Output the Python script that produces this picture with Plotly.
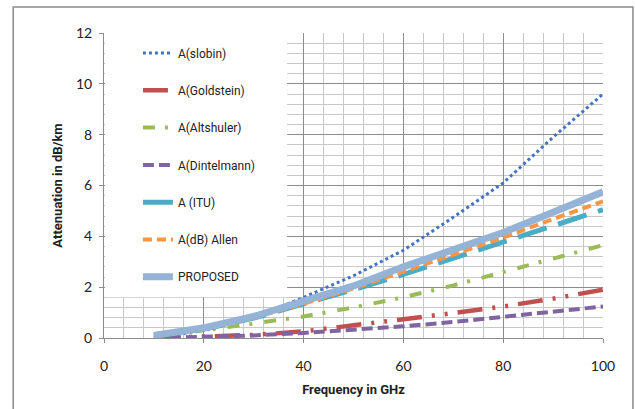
import plotly.graph_objects as go

freq = [10, 20, 30, 40, 50, 60, 70, 80, 90, 100]
slobin = [0.0, 0.3, 0.8, 1.6, 2.45, 3.45, 4.75, 6.1, 7.9, 9.6]
goldstein = [0.0, 0.05, 0.12, 0.26, 0.48, 0.74, 0.98, 1.24, 1.55, 1.9]
altshuler = [0.15, 0.3, 0.57, 0.85, 1.2, 1.6, 2.07, 2.6, 3.1, 3.65]
dintelmann = [0.0, 0.05, 0.1, 0.2, 0.32, 0.46, 0.63, 0.84, 1.03, 1.24]
itu = [0.08, 0.35, 0.78, 1.32, 1.9, 2.5, 3.15, 3.8, 4.45, 5.05]
allen = [0.08, 0.35, 0.8, 1.35, 1.95, 2.62, 3.3, 3.95, 4.68, 5.38]
proposed = [0.1, 0.4, 0.85, 1.42, 2.05, 2.8, 3.45, 4.15, 4.95, 5.75]

names = ["A(slobin)", "A(Goldstein)", "A(Altshuler)", "A(Dintelmann)",
         "A (ITU)", "A(dB) Allen", "PROPOSED"]
values = [slobin, goldstein, altshuler, dintelmann, itu, allen, proposed]
colors = ["#4472C4", "#C0504D", "#9BBB59", "#8064A2", "#4BACC6", "#F79646", "#95B3D7"]
dashes = ["3px,3px", "25px,10px,3px,10px,3px,10px", "12px,10px,3px,12px",
          "11px,5px", "30px,12px", "9px,5px", "solid"]
widths = [3, 4.5, 4, 4, 5, 4, 7]

fig = go.Figure()
for i in range(len(names)):
    fig.add_trace(go.Scatter(x=freq, y=values[i], name=names[i], mode="lines",
                             legendgroup=str(i),
                             line=dict(color=colors[i], dash=dashes[i], width=widths[i])))

font = "Lato, Roboto, Arial"

fig.update_layout(
    width=635, height=409,
    margin=dict(l=104, r=32, t=33, b=71),
    paper_bgcolor="white", plot_bgcolor="white",
    font=dict(family=font, color="#222", size=14),
    showlegend=True,
    legend=dict(x=0.068, y=0.982, xanchor="left", yanchor="top",
                bgcolor="rgba(0,0,0,0)", font=dict(size=12, family="Roboto, Arial"),
                tracegroupgap=18.3),
    xaxis=dict(range=[0, 100], dtick=20, showgrid=True, gridcolor="#8C8C8C",
               gridwidth=1, showline=True, linecolor="#8C8C8C",
               ticks="outside", ticklen=4, tickcolor="#8C8C8C", zeroline=False,
               ticklabelstandoff=11,
               minor=dict(dtick=4, showgrid=True, gridcolor="#C8C8C8", gridwidth=1),
               title=dict(text="<b>Frequency in GHz</b>",
                          font=dict(size=13, family="Roboto, Arial"), standoff=12),
               tickfont=dict(size=14)),
    yaxis=dict(range=[0, 12], dtick=2, showgrid=True, gridcolor="#8C8C8C",
               gridwidth=1, showline=True, linecolor="#8C8C8C",
               ticks="outside", ticklen=4, tickcolor="#8C8C8C", zeroline=False,
               ticklabelstandoff=4,
               minor=dict(dtick=0.4, showgrid=True, gridcolor="#C8C8C8", gridwidth=1),
               title=dict(text="<b>Attenuation in dB/km</b>",
                          font=dict(size=13, family="Roboto, Arial"), standoff=10),
               tickfont=dict(size=14)),
    shapes=[
        dict(type="rect", xref="paper", yref="paper", x0=0.002, x1=0.367,
             y0=0.134, y1=1.0, fillcolor="white", line=dict(width=0), layer="above"),
        dict(type="rect", xref="paper", yref="paper", x0=-0.182, x1=1.06,
             y0=-0.4, y1=1.085, fillcolor="rgba(0,0,0,0)",
             line=dict(color="#8C8C8C", width=1.5), layer="above"),
    ],
)

fig.write_html("out.html")
